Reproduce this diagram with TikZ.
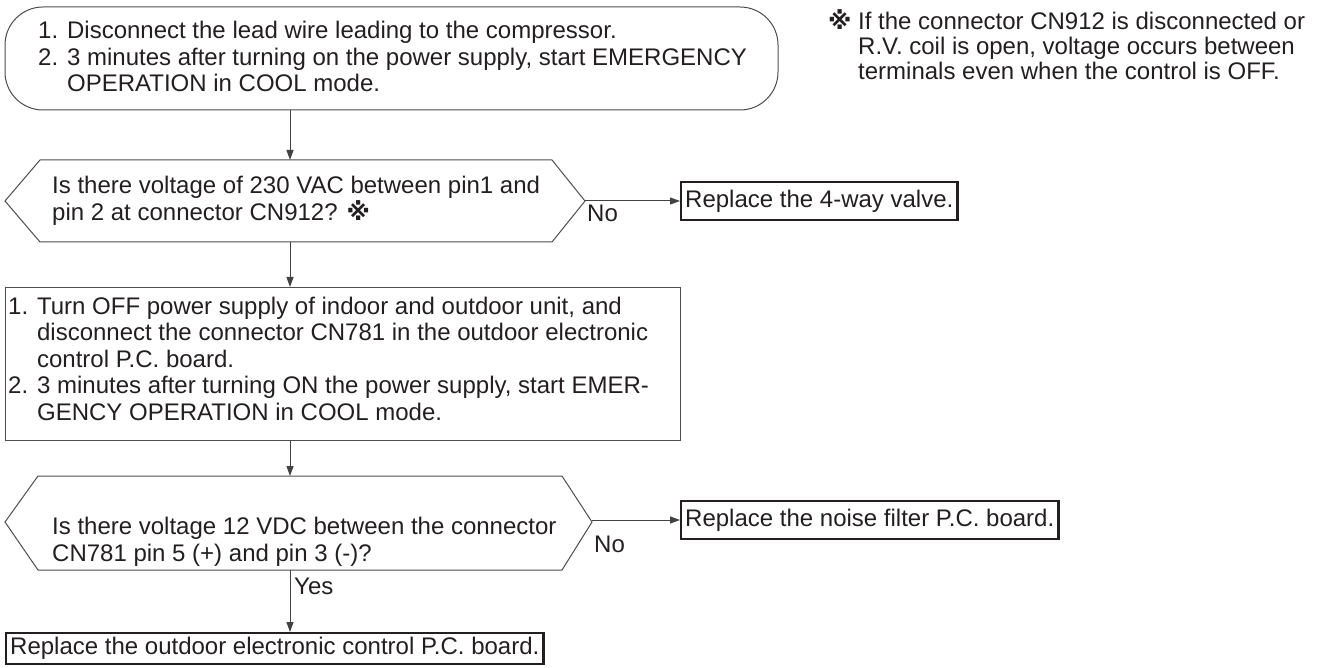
\documentclass[tikz,border=0pt]{standalone}
\usepackage{fontspec}
\setmainfont{Liberation Sans}
\newfontfamily\symfont{DejaVu Sans}
\usetikzlibrary{arrows.meta}
\definecolor{ink}{RGB}{35,31,32}
\tikzset{
  base/.style={line width=1pt, draw=ink!80},
  thick box/.style={line width=2.4pt, draw=ink},
  conn/.style={line width=1pt, draw=ink!85, -{Triangle[length=10pt,width=7pt]}},
  txt/.style={inner sep=0pt, anchor=west, align=left, font=\fontsize{24}{26.5}\selectfont, text=ink},
  lbl/.style={inner sep=0pt, font=\fontsize{24}{25}\selectfont, text=ink},
}
\newcommand{\kome}{{\symfont\bfseries ※}}
\begin{document}
\begin{tikzpicture}[x=1pt,y=-1pt]
\useasboundingbox (0,0) rectangle (1330,668);
% top rounded box
\draw[base, rounded corners=38pt] (5,7) rectangle (778,110);
\node[txt] (t1) at (38,60) {\begin{tabular}{@{}l@{ }l@{}}1. & Disconnect the lead wire leading to the compressor.\\ 2. & 3 minutes after turning on the power supply, start EMERGENCY\\ & OPERATION in COOL mode.\end{tabular}};
\coordinate (topb) at (290,110);
% hexagon 1
\draw[base] (5,201) -- (40,160) -- (552,160) -- (585,201) -- (552,242) -- (40,242) -- cycle;
\coordinate (h1t) at (290,160);
\coordinate (h1b) at (290,242);
\coordinate (h1r) at (585,201);
\node[txt] (q1) at (52,201) {Is there voltage of 230 VAC between pin1 and\\ pin 2 at connector CN912? \kome};
\node[lbl, anchor=north west] (no1) at (587,205) {No};
\node[txt, draw, thick box, inner sep=4pt, minimum height=38pt] (r1) at (680,201) {Replace the 4-way valve.};
% rectangle 2
\node[draw, base, minimum width=675pt, minimum height=153pt, anchor=north west, inner sep=0pt] (b2) at (5,287) {};
\node[txt] (t2) at (8,362) {\begin{tabular}{@{}l@{ }l@{}}1. & Turn OFF power supply of indoor and outdoor unit, and\\ & disconnect the connector CN781 in the outdoor electronic\\ & control P.C. board.\\ 2. & 3 minutes after turning ON the power supply, start EMER-\\ & GENCY OPERATION in COOL mode.\end{tabular}};
% hexagon 2
\draw[base] (5,522) -- (38,476) -- (562,476) -- (592,522) -- (562,570) -- (38,570) -- cycle;
\coordinate (h2t) at (290,476);
\coordinate (h2b) at (290,570);
\coordinate (h2r) at (592,522);
\node[txt] (q2) at (52,542) {Is there voltage 12 VDC between the connector\\ CN781 pin 5 (+) and pin 3 (-)?};
\node[lbl, anchor=north west] (no2) at (594,536) {No};
\node[txt, draw, thick box, inner sep=4pt, minimum height=38pt, anchor=west] (r2) at (680,520) {Replace the noise filter P.C. board.};
\node[lbl, anchor=west] (yes) at (294,586) {Yes};
\node[txt, draw, thick box, inner sep=4pt, minimum height=31pt, anchor=north west] (r3) at (5,632) {Replace the outdoor electronic control P.C. board.};
% note
\node[lbl, anchor=north west, align=left] (note) at (828,9) {\kome\ If the connector CN912 is disconnected or\\ \phantom{\kome\ }R.V. coil is open, voltage occurs between\\ \phantom{\kome\ }terminals even when the control is OFF.};
% connectors
\draw[conn] (topb) -- (h1t);
\draw[conn] (h1b) -- (b2.north -| h1b);
\draw[conn] (b2.south -| h1b) -- (h2t);
\draw[conn] (h2b) -- (r3.north -| h2b);
\draw[conn] (h1r) -- (r1.west);
\draw[conn] (h2r |- r2.west) -- (r2.west);
\end{tikzpicture}
\end{document}
